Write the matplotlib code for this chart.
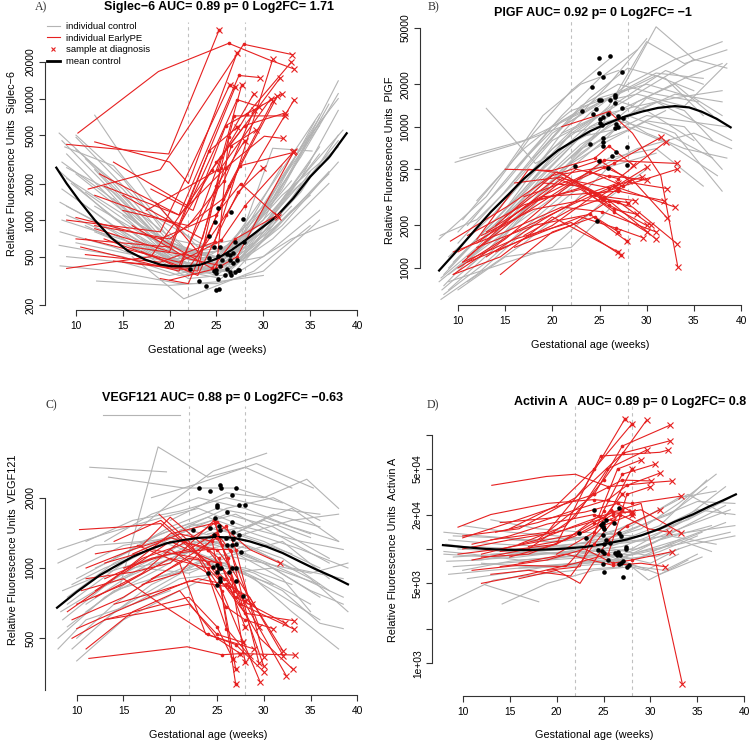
import matplotlib
matplotlib.use('Agg')
import matplotlib.pyplot as plt
from matplotlib.lines import Line2D
from matplotlib.ticker import NullLocator
import numpy as np

plt.rcParams['font.family'] = ['Liberation Sans', 'DejaVu Sans']

# ---------------- data ----------------
# every line is a flat list: week, value, week, value, ...

# A) Siglec-6
sig_ctrl = [
    [8.2, 5200, 14, 2000, 20, 600, 25.5, 480, 31, 1500, 35.5, 6500],
    [8.5, 4500, 15, 1400, 21, 500, 26, 420, 32, 1800, 37, 9000],
    [9, 3500, 16, 1000, 22, 430, 26.5, 450, 33, 2500, 38, 14000],
    [8.3, 2500, 13, 1200, 19, 520, 25, 380, 30, 900, 36, 4000],
    [8.5, 1800, 14, 900, 20, 480, 26, 500, 31, 1200, 38.5, 5500],
    [9, 1300, 15, 750, 21, 430, 25, 350, 30, 700, 35, 2500],
    [8.5, 1000, 16, 650, 22, 380, 27, 420, 33, 1500, 38, 4500],
    [8.3, 800, 14, 600, 20, 400, 25.5, 330, 31, 800, 37, 2500],
    [8.2, 620, 15, 500, 21, 350, 26, 380, 32, 900, 38, 3000],
    [8.3, 420, 14, 380, 21, 300, 25, 300, 30, 380, 36, 1000],
    [10, 4800, 16, 1600, 22, 550, 27, 600, 33, 3000, 37, 8000],
    [11, 3200, 17, 1100, 23, 480, 27, 520, 32, 2200, 36, 7000],
    [12, 7300, 18, 1500, 23, 600, 27.5, 700, 32, 2800],
    [9.5, 2000, 16, 800, 22, 420, 26, 460, 31, 1100, 36, 3500],
    [10, 1500, 17, 600, 23, 400, 27, 480, 34, 2200, 38, 8000],
    [9, 1100, 15, 700, 22, 360, 26.5, 400, 33, 1300],
    [11, 900, 18, 500, 24, 380, 28, 560, 35, 3000],
    [12, 2600, 19, 700, 25, 480, 30, 1300, 36, 6000],
    [13, 1900, 19, 600, 24, 420, 29, 900, 34, 3300, 38, 11000],
    [10, 650, 16, 520, 21, 440, 25, 440, 31, 900],
    [8.5, 3000, 15, 1300, 21, 520, 26, 560, 30, 1000, 35, 5000],
    [9, 2200, 16, 1000, 22, 500, 27, 600, 32, 1600, 38, 4000],
    [14, 1500, 20, 520, 25, 460, 30, 800, 36, 2800],
    [15, 1100, 21, 420, 26, 380, 31, 700, 37, 2000],
    [12, 800, 18, 520, 22, 330, 27, 360, 33, 700, 38, 1000],
    [12.2, 315, 20, 290, 25, 310, 30, 350],
    [16, 500, 21.5, 225, 29, 380, 35, 900],
    [9, 2700, 14, 1700, 19, 700, 24, 450, 28, 600, 34, 2000],
    [10, 3800, 15, 1800, 20, 650, 25, 500, 30, 1300],
    [8.3, 1400, 14, 800, 19, 430, 24, 400, 29, 650, 34, 1700, 38, 5000],
    [11, 1700, 17, 800, 22, 470, 27, 430, 33, 1700, 37, 3200],
    [10, 2400, 17, 900, 23, 500, 28, 650, 34, 4000, 38, 10000],
    [12, 1300, 18, 700, 24, 500, 28, 750, 33, 2100],
    [14, 900, 20, 460, 26, 420, 31, 850, 35, 1600],
    [9, 500, 15, 450, 20, 350, 25, 420, 30, 500, 36, 1200],
    [17, 700, 22, 400, 27, 380, 32, 1000, 37, 2400],
    [18, 600, 23, 360, 28, 480, 33, 1200],
    [10, 5000, 15, 2200, 20, 700, 26, 560, 31, 2000, 36, 7500],
    [8.8, 4000, 14, 2800, 19, 1000, 24, 600],
    [27, 550, 31, 3900, 35.2, 3700],
]
sig_pe = [
    [10.2, 5200, 18.8, 16700, 26.3, 28500, 30.5, 21000, 33.3, 17500],
    [9.0, 4200, 19.9, 3500, 25.3, 37000],
    [11.3, 1800, 19, 2600, 27.9, 28000, 33.1, 23000],
    [12, 4400, 20, 3000, 22, 2000, 27.2, 23700],
    [9, 1000, 19, 800, 26.4, 12900],
    [10, 700, 20, 600, 27, 12400],
    [12.5, 2400, 21, 1100, 27.4, 15500, 29.6, 14900],
    [14, 3000, 22, 1300, 27.2, 9800, 29.5, 8600],
    [18, 1800, 22.5, 1200, 26, 6000, 32, 10900],
    [15, 1600, 23.5, 700, 26.9, 7200, 32.3, 7200],
    [13, 1900, 21, 1100, 26, 2700, 30.1, 4900, 32.1, 4700],
    [16, 600, 23, 500, 27.5, 2800, 33.2, 3600],
    [12, 900, 20, 700, 25.7, 1500, 31.5, 10500],
    [9, 400, 18, 500, 24.5, 2600, 31.8, 14800],
    [11, 520, 19, 450, 24.8, 660, 31, 21000],
    [14, 460, 22, 400, 26, 1100, 33.3, 9800],
    [10.5, 600, 21, 380, 25.5, 3300, 28.3, 7500, 33, 20000],
    [13, 700, 21, 420, 25, 1900, 28, 4500],
    [17, 550, 23, 350, 27.3, 1700, 30, 2700],
    [12, 850, 20, 550, 24.2, 3700, 27.2, 5800],
    [15, 1200, 22, 900, 25.8, 2100, 29, 8000],
    [18.5, 1400, 23, 550, 26.6, 4100, 29.2, 5500],
    [10, 1050, 19, 700, 24.9, 1100, 27.6, 2000, 31.6, 1060],
    [16, 900, 22, 480, 25.5, 420, 27.2, 500, 33.2, 3600],
    [11, 700, 21, 450, 25.5, 680, 28, 1300, 33.3, 3700],
    [19, 330, 22, 300, 26.3, 1900, 31, 9500],
    [15, 450, 23, 380, 25.5, 2700, 30.8, 10000],
    [20, 320, 25, 400, 26.3, 4800, 29, 11000],
    [19, 700, 24.5, 400, 27, 700, 31.5, 1100],
    [12, 1600, 21, 900, 25, 3000, 28, 6000, 32.3, 7600],
    [17.5, 1200, 25.2, 2600, 27.7, 13000],
]
sig_dot_x = [25.2, 26.5, 24.8, 27.8, 24.2, 24.7, 25.4, 27.0, 27.9, 24.2, 25.2, 26.1,
             26.4, 26.8, 27.2, 22.2, 23.1, 23.9, 24.9, 25.0, 24.7, 25.4, 25.9, 26.4,
             27.0, 27.3, 26.6, 27.4, 25.2, 25.0, 25.3, 26.1, 25.6, 26.4, 26.8]
sig_dot_y = [1250, 1160, 970, 1015, 740, 600, 600, 665, 665, 485, 505, 525,
             470, 440, 470, 395, 315, 285, 390, 365, 380, 415, 355, 375,
             375, 390, 350, 385, 330, 265, 270, 395, 470, 520, 540]
sig_mean_x = [7.9, 9, 10.3, 12, 13.8, 15.5, 17.4, 19, 20.2, 22, 23.2, 25, 26.5,
              27.9, 29.6, 31.4, 33.2, 35, 37.1, 38.9]
sig_mean_y = [2700, 2000, 1460, 1000, 710, 560, 472, 430, 417, 417, 427, 480, 560,
              665, 836, 1070, 1510, 2270, 3340, 5180]

# B) PlGF
plgf_ctrl = [
    [8, 800, 13, 1500, 19, 4000, 25, 9500, 31, 51000, 35, 30000],
    [8.5, 900, 14, 2200, 20, 6000, 26, 14000, 30, 40000, 34, 28000, 38.5, 35000],
    [9, 1000, 15, 2600, 21, 9000, 26, 20000, 30, 42000],
    [8.3, 700, 13, 1300, 18, 3000, 24, 8000, 29, 15000, 34, 22000, 38, 28000],
    [9, 1200, 14, 2500, 20, 7000, 25, 12000, 29.5, 18000, 35, 30000, 38.5, 26000],
    [8.2, 850, 12, 1400, 17, 3200, 23, 7500, 28, 12000, 33, 17000, 38, 15000],
    [10, 1500, 15, 3500, 21, 10000, 26, 16000, 31, 24000, 36, 22000],
    [8.5, 750, 14, 1800, 19, 4500, 24, 10000, 28, 14000, 33, 20000, 37, 12000],
    [9.5, 1100, 16, 3000, 22, 9000, 27, 11000, 32, 9000, 37, 6000],
    [8, 1600, 13, 3200, 18, 9000, 22, 18000, 26, 30000],
    [11, 2000, 16, 5000, 21, 12000, 25, 22000, 29, 35000],
    [10, 1800, 15, 4000, 20, 10000, 25, 16000, 30, 20000, 35, 16000, 38, 12000],
    [9.7, 5600, 16, 7500, 21, 10000],
    [10.2, 6000, 17, 8000, 23, 12500],
    [13, 13500, 18.2, 5500, 24, 9000],
    [12, 1300, 17, 2600, 22, 5500, 26, 8000, 30, 11000, 34, 10000, 38, 5000],
    [9, 900, 15, 1800, 21, 3500, 26, 6000, 31, 7000, 36, 3800],
    [11, 800, 17, 1500, 22, 2800, 26, 5200, 31, 6500],
    [14, 2500, 19, 6000, 24, 12500, 28, 20000, 33, 30000, 38, 40000],
    [12, 3000, 17, 7000, 22, 13000, 27, 17000, 31, 23000, 35, 18000],
    [15, 3500, 20, 9000, 25, 15000, 29, 17000, 34, 14000, 38.5, 28000],
    [16, 5000, 21, 11000, 26, 16000, 30, 13000, 35, 8000],
    [8.5, 650, 13, 1100, 19, 2500, 24, 4800, 29, 7000, 35, 9000, 39, 7000],
    [9, 800, 20, 1400, 25, 2800, 30, 5000],
    [10, 700, 15, 1200, 22, 1400, 26, 2600],
    [11, 1000, 16, 2000, 21, 4500, 25.5, 8000, 30, 16000, 34, 13000, 37, 8000],
    [17, 4000, 22, 9000, 27, 15000, 32, 25000, 36, 20000],
    [18, 6000, 23, 14000, 27, 20000, 31, 17000, 35.5, 15000],
    [14, 2000, 19, 5000, 24, 10000, 28, 12000, 33, 9000, 38, 3500],
    [12.5, 1600, 18, 4000, 23, 8500, 28, 10000, 32.5, 7500, 37.5, 4500],
    [19, 7000, 24, 16000, 28, 26000, 32, 22000, 36, 12000],
    [20, 8000, 25, 12000, 29, 14000, 33, 16000, 38, 18000],
    [8.1, 1700, 12, 2200, 16, 4000, 20, 8000],
    [10.5, 2200, 15, 5000, 19, 12000, 23, 20000, 27, 25000],
    [9, 700, 14, 1400, 18, 3000, 23, 6500, 27, 10000],
    [21, 9000, 26, 13000, 30, 9000, 34, 7000, 38.5, 6000],
    [22, 6000, 26.5, 11000, 31, 15000, 35, 11000, 39, 8000],
    [13, 1800, 18, 3600, 23, 7000, 28, 9500, 32, 13000],
    [16, 2200, 21, 5000, 26, 9000, 30, 12000, 34, 11000, 38.5, 10000],
    [8.2, 600, 12, 900, 17, 1800, 23, 3800],
]
plgf_pe = [
    [10, 1300, 16, 2200, 22, 4000, 26.5, 5500, 31.5, 8400],
    [11, 1200, 17, 2500, 22.5, 5000, 27, 4300, 32, 7800],
    [9.5, 900, 15, 1600, 21, 3500, 25.5, 5800, 33.2, 5500],
    [12, 1500, 18, 3000, 24, 4800, 27.5, 3800, 33.2, 5000],
    [14, 2000, 20, 4500, 25, 5800, 28.5, 4000, 32.2, 3650],
    [10, 1000, 16, 1800, 22, 2800, 26.5, 3800, 33, 2700],
    [13, 1800, 19, 3200, 24.5, 3400, 27, 3500, 31.8, 3000],
    [15, 2300, 21, 4600, 25.5, 5200, 28.5, 4200, 32.2, 2250],
    [11, 1100, 17, 1600, 23, 2300, 26.8, 1910, 29.6, 1640],
    [16, 1400, 22, 2000, 26, 3000, 28.5, 2700, 33.2, 1490],
    [21, 10000, 26, 12800, 28.5, 9000, 31.5, 4500, 33.3, 1020],
    [12, 1600, 17.5, 5000, 21, 4700, 25, 3200, 30, 5150],
    [10.5, 1100, 16, 2400, 21, 4300, 26, 3700, 29.5, 4400],
    [17, 3200, 22, 4200, 25.5, 3100, 28.1, 4150],
    [9.5, 900, 14.5, 1200, 20, 2300, 27, 1300],
    [10.5, 1100, 16, 1600, 22, 2100, 27.3, 1230],
    [12, 1400, 18, 2000, 24, 2400, 27.9, 1550],
    [14.5, 900, 20, 1800, 24.5, 2300, 27, 1800],
    [18, 3000, 23, 3600, 26.5, 2600, 29, 2400],
    [16, 4000, 21, 4400, 24, 3500, 26, 2800, 30, 2000],
    [11, 1700, 17, 2800, 23, 3700, 26.5, 2500, 30, 1800],
    [15, 5000, 20, 4900, 24.5, 6000, 26, 7300, 28.5, 5400],
    [13, 1200, 19, 2200, 24, 3400, 27, 4000],
    [9.2, 1550, 15.5, 2800, 20.5, 4800, 25.5, 3200, 31, 1600],
    [9.5, 1300, 15, 1800, 21, 2700, 25.3, 2500, 31, 1800],
    [12.5, 1700, 18, 2600, 23, 3000, 27, 2950, 30.5, 2000],
    [14, 1300, 20, 2000, 24.5, 3300, 27, 3700],
    [19, 4000, 23, 3800, 26, 4500, 30, 4200],
    [17, 1700, 22, 2600, 25.3, 3100, 28, 2900],
    [20.5, 4300, 25.5, 3200, 28.8, 3000],
]
plgf_dot_x = [22.4, 23.1, 24.9, 26.1, 24.9, 25.4, 27.4, 24.2, 24.9, 25.2, 26.1, 26.6,
              26.6, 26.6, 27.4, 24.3, 24.6, 25.4, 25.9, 27.0, 27.5, 25.1, 25.1, 25.3,
              26.6, 26.8, 27.0, 25.4, 25.4, 25.4, 24.0, 27.9, 26.7, 26.3, 27.9, 24.9,
              25.9, 24.7]
plgf_dot_y = [5300, 13000, 30500, 31700, 24100, 22600, 24400, 19000, 15500, 15500, 15500, 16800,
              16200, 14800, 13500, 12400, 13300, 11800, 12400, 12000, 11500, 11400, 10600, 10300,
              9750, 10500, 10000, 8300, 7800, 7300, 7500, 7200, 6600, 6200, 5360, 5700,
              5080, 2150]
plgf_mean_x = [8.0, 10, 11.8, 13.5, 15.3, 17, 18.9, 20.6, 22.4, 24, 25.9, 27.7, 29.5,
               31.2, 33.0, 34.5, 35.8, 37.4, 38.9]
plgf_mean_y = [960, 1350, 1860, 2500, 3290, 4300, 5510, 6800, 8050, 9300, 10600, 11800, 12800,
               13600, 14000, 13700, 12800, 11400, 9900]

# C) VEGF121
vegf_ctrl = [
    [8, 500, 13, 750, 19, 1000, 24, 1300, 29, 1200, 35, 900, 39, 650],
    [8.5, 600, 14, 900, 20, 1200, 25, 1500, 30, 1300, 36, 1000],
    [9, 700, 15, 1050, 21, 1400, 26, 1700, 31, 1500, 37, 1100],
    [8, 1200, 13, 1400, 18, 1600, 23, 1800, 28, 1500, 34, 1300, 38.5, 1200],
    [8, 1050, 12, 1250, 17, 1300, 22, 1550, 27, 1400, 33, 1150],
    [9.5, 450, 14, 650, 19, 850, 24, 1100, 29, 950, 35, 700],
    [10, 400, 15, 600, 21, 800, 26, 1000, 31, 850],
    [8.5, 800, 13, 950, 18, 1100, 23, 1200, 28, 1400, 33, 1600, 38, 1700],
    [11, 700, 16, 950, 21, 1250, 26, 1350, 31, 1700, 36, 1500],
    [12, 1000, 17, 1250, 22, 1450, 27, 1300, 32, 1100, 37, 800],
    [9, 560, 14, 800, 20, 950, 25, 1150, 30, 1050, 35, 800, 38.5, 700],
    [10, 900, 15, 1150, 20, 1500, 25, 1800, 30, 1650, 35, 1400],
    [13, 1300, 18, 1700, 23, 2000, 28, 1800, 33, 1500, 38, 1300],
    [12.8, 4500, 21, 4500],
    [11.4, 2700, 19.6, 2580],
    [13.4, 2450, 21.5, 2200, 27, 2200, 32, 1900],
    [14.6, 830, 18.7, 3300, 24, 2450, 28, 2700, 33, 2200],
    [16, 1400, 20, 1900, 24.6, 2600, 30.3, 3100],
    [18, 2000, 23, 2300, 29.2, 2800, 35.3, 2200],
    [20, 1600, 26, 2100, 30, 2000, 34.6, 2400, 38, 1800],
    [9, 750, 14, 1050, 19, 1300, 24, 1100, 29, 900, 33, 650, 38, 450],
    [11, 650, 16, 900, 21, 1150, 26, 1250, 31, 1000, 36, 750],
    [10, 500, 14, 700, 18, 900, 23, 1000, 28, 1250, 33, 1000, 38.5, 900],
    [15, 900, 20, 1100, 25, 1300, 30, 1600, 35, 1350],
    [14, 1100, 19, 1400, 24, 1650, 29, 1400, 34, 1200, 39, 1000],
    [8.3, 650, 12, 800, 16, 1000, 21, 1100, 26, 1050, 31, 800, 36, 600],
    [17, 1200, 22, 1500, 27, 1700, 32, 1350, 37, 1050],
    [12, 800, 17, 1000, 22, 950, 27, 1150, 32, 1300, 37, 900],
    [19, 1100, 24, 1350, 28, 1100, 32, 900, 35, 650],
    [21, 1450, 26, 1800, 31, 2000, 36, 1600],
    [9.5, 850, 13, 1000, 18, 1200, 22, 1400, 27, 1200, 33, 950, 38.5, 750],
    [11, 1300, 16, 1600, 21, 1750, 26, 2000, 31, 1800, 36, 1700],
    [22, 1200, 27, 1000, 32, 800, 36, 580, 38.5, 550],
    [16, 700, 21, 900, 26, 950, 31, 1000, 36, 850],
    [10, 1000, 15, 1250, 20, 1350, 25, 1250, 30, 1050, 35, 950, 39, 1050],
    [13, 600, 18, 850, 23, 1050, 28, 1000, 33, 850],
    [24, 1400, 28, 1500, 33, 1800, 38, 1300],
    [8, 450, 11, 600, 16, 700, 20, 800],
]
vegf_pe = [
    [10.3, 1460, 15, 1500, 19, 1550, 24, 1050, 28, 640, 33.2, 595],
    [18.8, 1700, 22, 1300, 25.5, 800, 29.6, 326],
    [9, 650, 14, 900, 20, 1400, 24.8, 1560, 27.5, 700, 33.2, 548],
    [10, 700, 15, 850, 20, 1100, 24, 1000, 27, 750, 32.3, 580],
    [12, 800, 17, 1100, 21, 1250, 25, 1580, 28.5, 1200, 31.7, 1050],
    [11, 450, 16, 650, 21, 800, 25, 500, 27.5, 430, 33.3, 424],
    [11.3, 410, 21.8, 460, 25.5, 425, 27.5, 430],
    [13, 900, 18, 1100, 22, 1200, 26, 1510, 27, 1200, 30, 417],
    [9.5, 600, 15, 750, 20, 1000, 25, 1350, 26.2, 1100, 28, 397],
    [12, 750, 17, 950, 21, 1300, 25, 1200, 26.5, 1000, 32.1, 439],
    [14, 700, 19, 800, 23, 900, 26, 850, 28.5, 750, 32.1, 420],
    [10, 550, 16, 700, 22, 880, 26.3, 830, 29.6, 500, 33.1, 369],
    [11, 1000, 16, 1200, 20, 1350, 24, 1200, 26.5, 900, 32.4, 346],
    [15, 950, 20, 1300, 25, 1050, 27, 318],
    [16, 1150, 21, 1400, 24.5, 1300, 27, 369],
    [13, 600, 18, 680, 22, 750, 25, 560, 26.7, 408],
    [10.5, 800, 15, 900, 19, 700, 24, 520, 27, 470, 30, 360],
    [12, 1150, 17, 1250, 20, 1650, 25.2, 1100, 28, 560],
    [17, 850, 21, 950, 25, 1400, 26.5, 1180, 29.5, 390],
    [14, 1300, 19, 1600, 22.5, 1200, 25.8, 900, 28.7, 700],
    [18, 900, 22, 1100, 25.3, 1050, 26.8, 800, 28, 720],
    [9.5, 500, 13, 600, 18, 650, 22, 700, 25, 520, 27.8, 480],
    [20, 1200, 24, 950, 26, 550, 28.5, 420],
    [16.5, 1250, 21, 1050, 23.8, 520, 29, 450],
    [13, 1050, 18, 1200, 23, 1100, 26, 680, 28, 600, 31, 550],
    [11, 900, 16, 960, 20, 1050, 24.7, 1600, 25.5, 1250, 30, 380],
    [15, 1000, 20, 1150, 24, 1200, 26.4, 1200, 29.5, 560],
]
vegf_dot_x = [23.1, 24.3, 25.3, 25.4, 27.0, 26.6, 25.0, 25.0, 27.4, 28.0, 26.1, 24.8,
              26.6, 22.4, 24.3, 25.2, 25.3, 24.7, 26.7, 27.3, 26.0, 26.7, 26.1, 26.6,
              27.0, 27.6, 24.6, 25.0, 25.2, 25.4, 26.6, 27.0, 24.0, 25.0, 26.3, 25.3,
              25.3, 25.0, 27.0, 27.8]
vegf_dot_y = [2190, 2140, 2270, 2200, 2210, 2050, 1860, 1830, 1870, 1860, 1730, 1640,
              1580, 1450, 1480, 1520, 1450, 1390, 1420, 1390, 1340, 1330, 1250, 1250,
              1270, 1170, 1010, 1030, 1000, 1000, 1000, 1000, 950, 960, 960, 904,
              880, 846, 880, 760]
vegf_mean_x = [7.9, 10, 12.5, 14, 16, 18, 19.6, 21.5, 23.2, 25, 26.7, 28.5, 30.3, 32,
               33.9, 35.5, 37.3, 39]
vegf_mean_y = [676, 790, 933, 1010, 1118, 1210, 1276, 1320, 1348, 1358, 1348, 1300, 1234, 1160,
               1064, 990, 920, 851]

# D) Activin A
act_ctrl = [
    [8, 9000, 13, 8500, 18, 9000, 23, 9500, 27, 10500, 32, 15000, 37, 25000],
    [8.5, 12000, 14, 11000, 19, 10500, 24, 11500, 29, 13000, 34, 18000, 38.5, 28000],
    [9, 7000, 14, 7500, 19, 8000, 24, 8500, 28, 9000, 33, 12000, 38, 17000],
    [8, 14000, 12, 13000, 17, 12000, 22, 12500, 27, 14000, 32, 20000, 36, 35000],
    [8.5, 6000, 13, 6500, 18, 7000, 23, 7500, 28, 8000, 31, 9500, 35, 13000],
    [9.5, 10000, 15, 9500, 20, 9000, 25, 10000, 30, 14000, 35, 22000, 39, 20000],
    [8.5, 3450, 13.3, 5340, 18, 6000, 22, 6500, 27, 7000],
    [12.4, 4850, 18.1, 3450],
    [14.2, 3300, 19, 5000, 24, 6500, 28, 7000, 29.8, 5340, 34, 8000],
    [10, 16000, 15, 14000, 20, 13000, 25, 12000, 29, 15000, 33, 25000, 37, 45000],
    [11, 8000, 16, 8500, 21, 9500, 26, 11000, 30, 12000, 34, 16000, 38.5, 22000],
    [8.2, 11000, 12, 10000, 17, 9000, 22, 9500, 27, 8500, 31, 10000, 35.5, 14000],
    [13, 18000, 18, 15000, 23, 14000, 28, 13000],
    [9, 8500, 14, 9000, 19, 10000, 24, 11000, 29, 12000, 34, 14000, 39, 16000],
    [10.5, 5500, 15, 6200, 20, 7200, 25, 8000, 29.5, 6500, 33, 9000],
    [12, 7500, 17, 7000, 22, 7500, 27, 9000, 30, 11000, 35, 18000, 38, 24000],
    [15, 12000, 20, 11500, 25, 13000, 30, 20000, 34, 30000, 38, 20000],
    [17, 10000, 22, 11000, 27, 12000, 31, 16000, 36, 40000],
    [19, 8000, 24, 9500, 28.5, 10000, 32, 13000, 37, 11000],
    [20, 7000, 25, 7800, 29, 8500, 33, 12000, 36.5, 9500],
    [8, 9500, 11, 9000, 16, 8000, 21, 8500, 26, 9000, 30, 7500, 33, 10000],
    [10, 6500, 15, 7800, 20, 8500, 25, 9000, 31, 6000, 35.5, 8500],
    [9, 13000, 14, 12500, 19, 11500, 24, 13000, 28, 16000, 33, 28000, 37, 32000],
    [11, 10500, 16, 10000, 21, 10500, 26, 10000, 30.5, 8500, 34.5, 11000, 39, 13000],
    [16, 6800, 21, 7000, 26, 7500, 31, 12000, 36.5, 16000],
    [13, 9000, 18, 9500, 23, 8500, 28, 10000, 33, 17000, 38, 35000],
    [22, 11000, 27, 13500, 31, 19000, 35, 26000, 39, 25000],
    [24, 9000, 28.5, 7000, 31.5, 6500, 35, 9000],
    [8.3, 7800, 12, 8000, 17, 9500, 22, 10000],
    [26, 8000, 29, 9500, 33, 11000, 38.5, 14000],
]
act_pe = [
    [13, 12000, 19, 14000, 23, 35000, 27.3, 138000],
    [15, 15000, 20, 24000, 24, 50000, 28, 123000],
    [16, 11000, 21, 16000, 25, 40000, 29.6, 134000],
    [12, 9000, 18, 12000, 24, 30000, 27, 79400, 32.1, 121000],
    [10, 13000, 16, 15000, 22, 28000, 27.1, 69000, 32.1, 88300],
    [14, 9500, 20, 11000, 24.7, 64900, 31, 70000, 31.9, 73300],
    [11, 8000, 17, 10000, 22, 19000, 25.4, 49900, 29.6, 73300],
    [13.1, 36000, 18.9, 43000, 22, 45000, 25.5, 35000, 30, 38000, 32.3, 39300],
    [10, 12500, 15, 17000, 19, 22000, 24, 30000, 27, 40000, 30.1, 39300],
    [9.5, 15500, 13, 20000, 19, 25000, 24, 27000, 28, 25000, 33.3, 29000],
    [12, 8500, 17, 9000, 22, 13000, 26, 20000, 29, 22000, 33.3, 13700],
    [14, 7000, 19, 8000, 23, 10000, 26, 7500, 28, 8000, 32.3, 9460],
    [16, 7500, 21, 9000, 26, 7200, 29, 7500, 31.6, 6990],
    [18, 12000, 22, 16000, 26, 21000, 29, 25000, 30.5, 8000, 33.4, 660],
    [11, 6500, 16, 7200, 21, 7000, 25, 16000, 28, 20000],
    [13, 6000, 17, 6500, 21.5, 5800, 24, 11000, 27, 22000],
    [15, 8500, 20, 11000, 24, 17000, 26, 21000, 28, 21000],
    [10, 10000, 15, 12000, 20, 14000, 25, 18500, 27, 30000],
    [12, 5000, 17, 6000, 22, 7500, 25.5, 9000, 27.5, 30000, 30, 35000],
    [17, 10500, 21, 12000, 24.5, 19500, 26.5, 50000, 29, 60000],
    [19, 6500, 22.5, 7000, 25, 21500, 27, 45000, 30.5, 55000],
    [14, 17000, 19, 18500, 23, 21000, 26.5, 25000, 28, 21000],
    [16, 5500, 20, 6500, 22.5, 5000, 25.5, 12000, 27.5, 16000, 31, 22000],
    [11, 11000, 15, 13000, 19, 16500, 24, 20000, 26, 17500],
    [20, 9000, 24, 14000, 25.8, 22000, 28, 50000],
    [13.5, 14000, 18, 17000, 22, 22000, 25.5, 27000, 27.5, 36000, 31, 46000],
    [9.5, 9000, 14, 10000, 19, 12000, 23, 14000, 26.8, 20000, 29.8, 15000, 32, 14000],
]
act_dot_x = [24.0, 26.7, 22.4, 23.1, 24.7, 24.9, 25.3, 26.1, 24.9, 25.1, 26.6, 26.9,
             24.9, 25.3, 25.1, 25.7, 24.4, 24.8, 25.1, 26.2, 26.5, 27.4, 27.4, 26.8,
             27.1, 26.9, 26.7, 27.7, 27.5, 24.9, 25.0, 27.1, 25.5, 26.4]
act_dot_y = [21900, 22600, 13700, 12400, 16200, 16700, 17900, 17000, 15500, 14900, 13700, 13000,
             13200, 11960, 11100, 11300, 9780, 9500, 9150, 9150, 9400, 10450, 10000, 8850,
             7890, 7550, 7350, 7200, 6900, 7350, 6320, 5650, 8000, 8850]
act_mean_x = [7.9, 10, 12.5, 14.9, 17.5, 20.2, 23, 25.5, 27.5, 29.1, 31, 32.6, 34.5, 36.2,
              37.7, 39.1]
act_mean_y = [10800, 10400, 10000, 9800, 9800, 9980, 10400, 11200, 12100, 13200, 15000, 17300,
              20000, 23400, 26500, 30000]

x_ticks = [10, 15, 20, 25, 30, 35, 40]

# ---------------- drawing ----------------
W, H = 750, 741
GRAY = '#b4b4b4'
RED = '#e62020'


def px(x, y):
    return x / W, 1 - y / H


def make_axes(fig, box, xcal, ycal):
    left, top, right, bottom = box
    ax = fig.add_axes([left / W, 1 - bottom / H, (right - left) / W, (bottom - top) / H])
    (xv1, xp1), (xv2, xp2) = xcal
    k = (xv2 - xv1) / (xp2 - xp1)
    ax.set_xlim(xv1 + (left - xp1) * k, xv1 + (right - xp1) * k)
    (yv1, yp1), (yv2, yp2) = ycal
    ky = (np.log10(yv2) - np.log10(yv1)) / (yp2 - yp1)
    ax.set_yscale('log')
    ax.set_ylim(10 ** (np.log10(yv1) + (bottom - yp1) * ky),
                10 ** (np.log10(yv1) + (top - yp1) * ky))
    return ax


def draw_panel(ax, ctrl, pe, dot_x, dot_y, mean_x, mean_y, yticks, ylabels, ybounds):
    ax.patch.set_visible(False)
    for line in ctrl:
        ax.plot(line[0::2], line[1::2], color=GRAY, lw=0.8, zorder=2)
    for line in pe:
        ax.plot(line[0::2], line[1::2], color=RED, lw=0.8, zorder=3)
    ax.plot(mean_x, mean_y, color='black', lw=1.6, zorder=4)
    for v in (22, 28):
        ax.axvline(v, color='#c0c0c0', lw=0.8, ls=(0, (3, 3)), zorder=1)
    # red dots at visits in the 24-28 week window, red x at diagnosis
    for line in pe:
        xs, ys = line[0::2], line[1::2]
        win = [(a, b) for a, b in zip(xs, ys) if 24 <= a <= 28.3]
        if win:
            ax.plot([w[0] for w in win], [w[1] for w in win], 'o', color=RED, ms=2.6,
                    mew=0, zorder=5)
        ax.plot(xs[-1], ys[-1], 'x', color=RED, ms=4.5, mew=0.8, zorder=5)
    ax.plot(dot_x, dot_y, 'o', color='black', ms=3.3, mew=0, zorder=6)

    for s in ('top', 'right'):
        ax.spines[s].set_visible(False)
    ax.spines['bottom'].set_bounds(10, 40)
    ax.spines['left'].set_bounds(*ybounds)
    for s in ('bottom', 'left'):
        ax.spines[s].set_linewidth(0.8)
        ax.spines[s].set_color('#333333')
    ax.set_xticks(x_ticks)
    ax.set_xticklabels([str(t) for t in x_ticks])
    ax.yaxis.set_minor_locator(NullLocator())
    ax.set_yticks(yticks)
    ax.set_yticklabels(ylabels, rotation=90, va='center')
    ax.tick_params(length=4.3, width=0.8, color='#333333', labelsize=7.4)
    ax.tick_params(axis='x', pad=3.5)
    ax.tick_params(axis='y', pad=2.5)


fig = plt.figure(figsize=(7.5, 7.41), dpi=100)

axA = make_axes(fig, (45, 22, 362, 310), ((10, 76), (40, 357)), ((20000, 62), (200, 305)))
draw_panel(axA, sig_ctrl, sig_pe, sig_dot_x, sig_dot_y, sig_mean_x, sig_mean_y,
           [200, 500, 1000, 2000, 5000, 10000, 20000],
           ['200', '500', '1000', '2000', '5000', '10000', '20000'], (200, 20000))

axB = make_axes(fig, (420, 18, 745, 305), ((10, 458), (40, 741)), ((50000, 28), (1000, 268)))
draw_panel(axB, plgf_ctrl, plgf_pe, plgf_dot_x, plgf_dot_y, plgf_mean_x, plgf_mean_y,
           [1000, 2000, 5000, 10000, 20000, 50000],
           ['1000', '2000', '5000', '10000', '20000', '50000'], (1000, 50000))

axC = make_axes(fig, (45, 406, 362, 695), ((10, 76.7), (40, 357.3)), ((2000, 497.7), (500, 638.3)))
draw_panel(axC, vegf_ctrl, vegf_pe, vegf_dot_x, vegf_dot_y, vegf_mean_x, vegf_mean_y,
           [500, 1000, 2000], ['500', '1000', '2000'], (300, 2000))

axD = make_axes(fig, (432.3, 403, 748, 696), ((10, 462.7), (40, 744.3)), ((1000, 663.3), (50000, 469)))
draw_panel(axD, act_ctrl, act_pe, act_dot_x, act_dot_y, act_mean_x, act_mean_y,
           [1000, 2000, 5000, 10000, 20000, 50000, 100000],
           ['1e+03', '', '5e+03', '', '2e+04', '5e+04', ''], (1000, 100000))

# titles, panel letters and axis labels
titles = [
    (219, 7, 'Siglec\u22126 AUC= 0.89 p= 0 Log2FC= 1.71'),
    (593, 13, 'PlGF AUC= 0.92 p= 0 Log2FC= \u22121'),
    (223, 398, 'VEGF121 AUC= 0.88 p= 0 Log2FC= \u22120.63'),
    (630, 402, 'Activin A   AUC= 0.89 p= 0 Log2FC= 0.8'),
]
for x, y, t in titles:
    fig.text(*px(x, y), t, ha='center', va='center', fontsize=9, fontweight='bold')

for x, y, t in [(35, 7, 'A)'), (428, 7, 'B)'), (45, 405, 'C)'), (427, 405, 'D)')]:
    fig.text(*px(x, y), t, ha='left', va='center', fontsize=8.5, family='Liberation Serif',
             color='#333333')

for x, y in [(207, 350), (590, 345), (208, 735), (594, 735)]:
    fig.text(*px(x, y), 'Gestational age (weeks)', ha='center', va='center', fontsize=7.8)

ylabs = [
    (12, 164, 'Relative Fluorescence Units  Siglec\u22126'),
    (390, 160, 'Relative Fluorescence Units  PlGF'),
    (13, 550, 'Relative Fluorescence Units  VEGF121'),
    (393, 550, 'Relative Fluorescence Units  Activin A'),
]
for x, y, t in ylabs:
    fig.text(*px(x, y), t, ha='center', va='center', fontsize=7.8, rotation=90)

# legend in panel A
handles = [
    Line2D([], [], color=GRAY, lw=0.8),
    Line2D([], [], color=RED, lw=0.8),
    Line2D([], [], color=RED, lw=0, marker='x', ms=3.5, mew=0.8),
    Line2D([], [], color='black', lw=2),
]
labels = ['individual control', 'individual EarlyPE', 'sample at diagnosis', 'mean control']
fig.legend(handles, labels, loc='upper left', bbox_to_anchor=px(47, 22), frameon=False,
           fontsize=6.8, handlelength=1.35, handletextpad=0.65, labelspacing=0.28,
           borderpad=0, borderaxespad=0)

fig.savefig('out.png', dpi=100)
